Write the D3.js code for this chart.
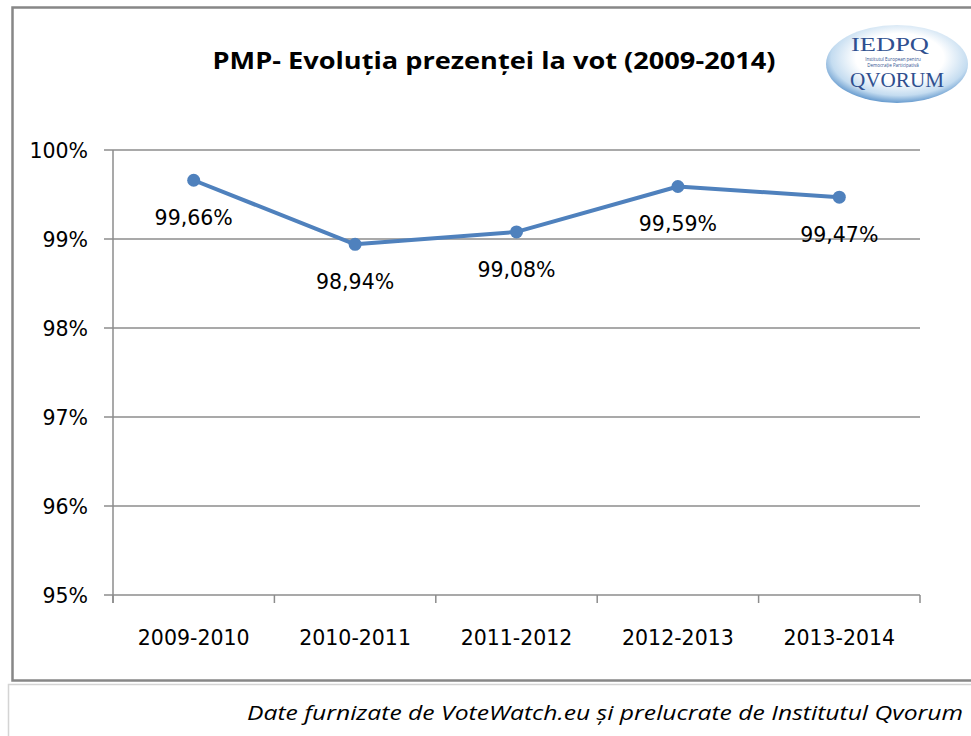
<!DOCTYPE html>
<html><head><meta charset="utf-8">
<script src="https://cdn.jsdelivr.net/npm/d3@7"></script>
<style>body{margin:0;background:#fff}svg{display:block}</style>
</head><body>
<script>
const categories = ["2009-2010","2010-2011","2011-2012","2012-2013","2013-2014"];
const values = [99.66, 98.94, 99.08, 99.59, 99.47];
const labels = ["99,66%","98,94%","99,08%","99,59%","99,47%"];
const yTicks = [95,96,97,98,99,100];
const title = "PMP- Evoluția prezenței la vot (2009-2014)";
const footer = "Date furnizate de VoteWatch.eu și prelucrate de Institutul Qvorum";

const W=971,H=736;
const svg=d3.select("body").append("svg").attr("width",W).attr("height",H);
const font="'Open Sans', 'Noto Sans', sans-serif";
const numFont="'DejaVu Sans', sans-serif";

// outer chart frame
svg.append("rect").attr("x",12.5).attr("y",7.5).attr("width",970).attr("height",673)
  .attr("fill","#fff").attr("stroke","#878787").attr("stroke-width",2.5);
// footer frame
svg.append("rect").attr("x",8.5).attr("y",684.5).attr("width",970).attr("height",60)
  .attr("fill","#fff").attr("stroke","#d4d4d4").attr("stroke-width",1.5);

const x=d3.scaleBand().domain(categories).range([113,920]);
const y=d3.scaleLinear().domain([95,100]).range([595,150]);

// gridlines
svg.append("g").selectAll("line").data(yTicks).join("line")
  .attr("x1",104).attr("x2",920).attr("y1",d=>y(d)).attr("y2",d=>y(d))
  .attr("stroke","#8c8c8c").attr("stroke-width",1.5);
// y axis line
svg.append("line").attr("x1",113).attr("x2",113).attr("y1",150).attr("y2",603)
  .attr("stroke","#8c8c8c").attr("stroke-width",1.5);
// category ticks
const catTicks=categories.map(c=>x(c)).concat([x.range()[1]]);
svg.append("g").selectAll("line").data(catTicks).join("line")
  .attr("x1",d=>d).attr("x2",d=>d).attr("y1",595).attr("y2",603)
  .attr("stroke","#8c8c8c").attr("stroke-width",1.5);

// y labels
svg.append("g").selectAll("text").data(yTicks).join("text")
  .attr("x",88).attr("y",d=>y(d)+8).attr("text-anchor","end")
  .attr("font-family",numFont).attr("font-size",20.5).attr("fill","#000")
  .text(d=>d+"%");
// x labels
svg.append("g").selectAll("text").data(categories).join("text")
  .attr("x",d=>x(d)+x.bandwidth()/2).attr("y",645).attr("text-anchor","middle")
  .attr("font-family",numFont).attr("font-size",20.5).attr("fill","#000")
  .text(d=>d);

// line
const line=d3.line().x((d,i)=>x(categories[i])+x.bandwidth()/2).y(d=>y(d));
svg.append("path").datum(values).attr("d",line).attr("fill","none")
  .attr("stroke","#4f81bd").attr("stroke-width",4).attr("stroke-linejoin","round");
svg.append("g").selectAll("circle").data(values).join("circle")
  .attr("cx",(d,i)=>x(categories[i])+x.bandwidth()/2).attr("cy",d=>y(d)).attr("r",6.5)
  .attr("fill","#4f81bd");
// data labels
svg.append("g").selectAll("text").data(values).join("text")
  .attr("x",(d,i)=>x(categories[i])+x.bandwidth()/2).attr("y",d=>y(d)+45)
  .attr("text-anchor","middle").attr("font-family",numFont).attr("font-size",20.5).attr("fill","#000")
  .text((d,i)=>labels[i]);

// title
svg.append("text").attr("x",494).attr("y",69).attr("text-anchor","middle")
  .attr("font-family",font).attr("font-weight","bold").attr("font-size",22.5).attr("fill","#000")
  .attr("textLength",563).attr("lengthAdjust","spacingAndGlyphs")
  .text(title);

// logo
const defs=svg.append("defs");
const g1=defs.append("radialGradient").attr("id","lg").attr("cx","52%").attr("cy","42%").attr("r","62%");
g1.append("stop").attr("offset","50%").attr("stop-color","#ffffff");
g1.append("stop").attr("offset","78%").attr("stop-color","#c4dcf0");
g1.append("stop").attr("offset","100%").attr("stop-color","#3f7fc0");
const logo=svg.append("g");
logo.append("ellipse").attr("cx",897).attr("cy",64).attr("rx",71).attr("ry",39).attr("fill","url(#lg)");
logo.append("text").attr("x",890).attr("y",51).attr("text-anchor","middle")
  .attr("font-family","'Liberation Serif', serif").attr("font-size",18).attr("fill","#2f4f8f")
  .attr("textLength",78).attr("lengthAdjust","spacingAndGlyphs").text("IEDPQ");
logo.append("text").attr("x",893).attr("y",61).attr("text-anchor","middle")
  .attr("font-family",font).attr("font-size",4.5).attr("fill","#2f4f8f").text("Institutul European pentru");
logo.append("text").attr("x",893).attr("y",66.8).attr("text-anchor","middle")
  .attr("font-family",font).attr("font-size",4.5).attr("fill","#2f4f8f").text("Democrație Participativă");
logo.append("text").attr("x",897).attr("y",87).attr("text-anchor","middle")
  .attr("font-family","'Liberation Serif', serif").attr("font-size",20).attr("fill","#2f4f8f")
  .attr("textLength",94).attr("lengthAdjust","spacingAndGlyphs").text("QVORUM");

// footer text
svg.append("text").attr("x",963).attr("y",720).attr("text-anchor","end")
  .attr("font-family",font).attr("font-style","italic").attr("font-size",20).attr("fill","#000")
  .attr("textLength",716).attr("lengthAdjust","spacingAndGlyphs")
  .text(footer);
</script>
</body></html>
